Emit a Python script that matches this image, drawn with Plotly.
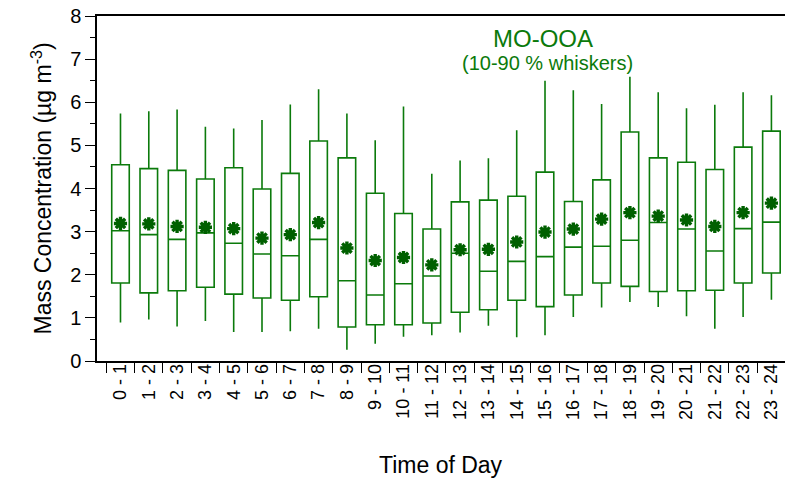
import plotly.graph_objects as go

# Hour-of-day bins
hours = [f"{h} - {h + 1}" for h in range(24)]

# MO-OOA diurnal statistics (µg m-3): 10th/25th/50th/75th/90th percentiles and mean
p10 = [0.89, 0.96, 0.80, 0.93, 0.67, 0.67, 0.69, 0.75, 0.26, 0.40, 0.56, 0.60,
       0.66, 0.82, 0.55, 0.60, 1.02, 1.24, 1.37, 1.25, 1.04, 0.75, 1.02, 1.42]
p25 = [1.81, 1.58, 1.63, 1.71, 1.55, 1.46, 1.41, 1.49, 0.79, 0.84, 0.84, 0.88,
       1.13, 1.19, 1.41, 1.26, 1.53, 1.81, 1.73, 1.61, 1.63, 1.64, 1.81, 2.04]
p50 = [3.02, 2.93, 2.82, 2.97, 2.73, 2.48, 2.44, 2.82, 1.86, 1.53, 1.79, 1.97,
       2.50, 2.08, 2.31, 2.42, 2.64, 2.66, 2.80, 3.21, 3.06, 2.55, 3.07, 3.22]
p75 = [4.55, 4.46, 4.42, 4.22, 4.48, 3.99, 4.35, 5.10, 4.71, 3.89, 3.42, 3.06,
       3.69, 3.73, 3.82, 4.38, 3.70, 4.20, 5.31, 4.71, 4.61, 4.44, 4.96, 5.33]
p90 = [5.74, 5.79, 5.83, 5.43, 5.39, 5.59, 5.95, 6.30, 5.74, 5.12, 5.90, 4.34,
       4.65, 4.70, 5.35, 6.50, 6.28, 5.96, 6.59, 6.23, 5.86, 5.94, 6.23, 6.16]
means = [3.19, 3.18, 3.12, 3.10, 3.07, 2.85, 2.93, 3.21, 2.62, 2.33, 2.40, 2.23,
         2.58, 2.59, 2.76, 2.99, 3.06, 3.29, 3.44, 3.36, 3.27, 3.12, 3.44, 3.66]

GREEN = "#0b7a0b"
DARK_GREEN = "#006000"
FONT = "Liberation Sans, Arial, sans-serif"

fig = go.Figure()

fig.add_trace(go.Box(
    x=hours,
    q1=p25, median=p50, q3=p75,
    lowerfence=p10, upperfence=p90,
    width=0.62,
    whiskerwidth=0,
    fillcolor="white",
    line=dict(color=GREEN, width=1.6),
    boxpoints=False,
    showlegend=False,
    hoverinfo="skip",
))

fig.add_trace(go.Scatter(
    x=hours, y=means,
    mode="markers",
    marker=dict(symbol="asterisk-open", size=11, color=DARK_GREEN,
                line=dict(color=DARK_GREEN, width=3.4)),
    showlegend=False,
))

fig.update_layout(
    width=785, height=486,
    margin=dict(l=97, r=0, t=16, b=125),
    paper_bgcolor="white", plot_bgcolor="white",
    font=dict(family=FONT, color="black"),
)

fig.update_xaxes(
    type="category",
    categoryorder="array", categoryarray=hours,
    range=[-0.83, 23.48],
    tickson="boundaries",
    ticks="outside", ticklen=10, tickwidth=1.3, tickcolor="black",
    tickangle=-90,
    ticklabelstandoff=-6,
    tickfont=dict(size=18, family=FONT, color="black"),
    showline=True, linecolor="black", linewidth=1.5, mirror=True,
    showgrid=False, zeroline=False,
)

fig.update_yaxes(
    range=[0, 8], dtick=1,
    ticks="outside", ticklen=10, tickwidth=1.3, tickcolor="black",
    tickfont=dict(size=20, family=FONT, color="black"),
    minor=dict(dtick=0.5, ticks="outside", ticklen=5, tickwidth=1.3, tickcolor="black"),
    showline=True, linecolor="black", linewidth=1.5,
    showgrid=False, zeroline=False,
)

# Axis titles
fig.add_annotation(
    text="Mass Concentration (µg m<sup>-3</sup>)",
    textangle=-90, xref="paper", yref="paper", x=0, y=0.5,
    xanchor="center", yanchor="middle", xshift=-56,
    showarrow=False, font=dict(size=23, family=FONT, color="black"),
)
fig.add_annotation(
    text="Time of Day",
    xref="paper", yref="paper", x=0.5, y=0,
    xanchor="center", yanchor="middle", yshift=-104,
    showarrow=False, font=dict(size=23, family=FONT, color="black"),
)

# Panel label
fig.add_annotation(
    text="MO-OOA", xref="x", yref="paper", x=15, y=1,
    xanchor="center", yanchor="middle", yshift=-22, xshift=-2,
    showarrow=False, font=dict(size=24, family=FONT, color=GREEN),
)
fig.add_annotation(
    text="(10-90 % whiskers)", xref="x", yref="paper", x=15, y=1,
    xanchor="center", yanchor="middle", yshift=-47, xshift=2,
    showarrow=False, font=dict(size=20, family=FONT, color=GREEN),
)

fig.write_html("out.html")
